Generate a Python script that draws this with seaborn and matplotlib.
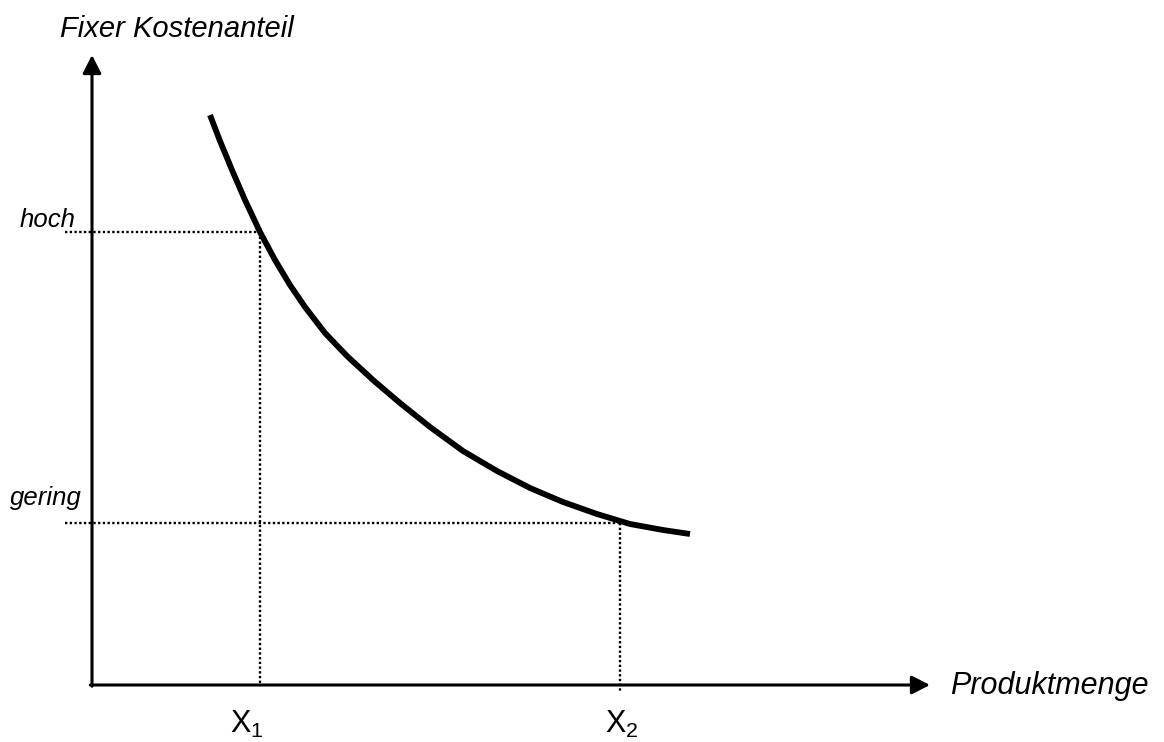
import matplotlib
matplotlib.use("Agg")
import matplotlib.pyplot as plt
import seaborn as sns

# Curve (arbitrary units, origin at axis crossing)
menge = [1.18, 1.28, 1.40, 1.53, 1.68, 1.83, 1.98, 2.13, 2.33, 2.55, 2.81,
         3.08, 3.38, 3.71, 4.05, 4.38, 4.71, 5.05, 5.38, 5.71, 5.98]
kostenanteil = [5.70, 5.44, 5.15, 4.85, 4.53, 4.25, 4.00, 3.78, 3.52, 3.29, 3.05,
                2.82, 2.58, 2.34, 2.14, 1.97, 1.83, 1.71, 1.61, 1.55, 1.51]

# Reference levels
x_marks = [1.68, 5.28]
x_labels = ["X$_\\mathregular{1}$", "X$_\\mathregular{2}$"]
y_marks = [4.53, 1.62]
y_labels = ["hoch", "gering"]

sns.set_style("white")
plt.rcParams["font.family"] = ["Liberation Sans", "DejaVu Sans"]
plt.rcParams["text.color"] = "black"
plt.rcParams["mathtext.fontset"] = "custom"
plt.rcParams["mathtext.rm"] = "Liberation Sans"

fig = plt.figure(figsize=(11.64, 7.42), dpi=100)
ax = fig.add_axes([92 / 1164, 57 / 742, 838 / 1164, 630 / 742])
ax.set_xlim(0, 8.38)
ax.set_ylim(0, 6.30)
ax.axis("off")

# dotted guide lines
dot = dict(color="black", linewidth=1.7, linestyle=(0, (1, 1)), clip_on=False)
ax.plot([-0.27, x_marks[0]], [y_marks[0], y_marks[0]], **dot)
ax.plot([x_marks[0], x_marks[0]], [y_marks[0], 0], **dot)
ax.plot([-0.27, x_marks[1]], [y_marks[1], y_marks[1]], **dot)
ax.plot([x_marks[1], x_marks[1]], [y_marks[1], -0.08], **dot)

# curve
sns.lineplot(x=menge, y=kostenanteil, ax=ax, color="black", linewidth=4.2,
             sort=False, estimator=None)
ax.lines[-1].set_solid_capstyle("butt")
ax.lines[-1].set_solid_joinstyle("round")

# axes with arrows
arrow = dict(arrowstyle="-|>,head_length=0.55,head_width=0.28", color="black",
             lw=2.2, mutation_scale=20, shrinkA=0, shrinkB=0)
ax.annotate("", xy=(0, 1), xytext=(0, -0.002), xycoords="axes fraction",
            arrowprops=arrow, annotation_clip=False)
ax.annotate("", xy=(1, 0), xytext=(-0.002, 0), xycoords="axes fraction",
            arrowprops=arrow, annotation_clip=False)

# labels
ax.text(-0.32, 6.48, "Fixer Kostenanteil", fontsize=21, style="italic", va="baseline", clip_on=False)
ax.text(8.58, -0.09, "Produktmenge", fontsize=22, style="italic", va="baseline", clip_on=False)
ax.text(-0.72, 4.58, y_labels[0], fontsize=18.5, style="italic", va="baseline", clip_on=False)
ax.text(-0.82, 1.80, y_labels[1], fontsize=18.5, style="italic", va="baseline", clip_on=False)
ax.text(1.38, -0.48, x_labels[0], fontsize=22, va="baseline", clip_on=False)
ax.text(5.13, -0.48, x_labels[1], fontsize=22, va="baseline", clip_on=False)

fig.savefig("out.png", dpi=100)
